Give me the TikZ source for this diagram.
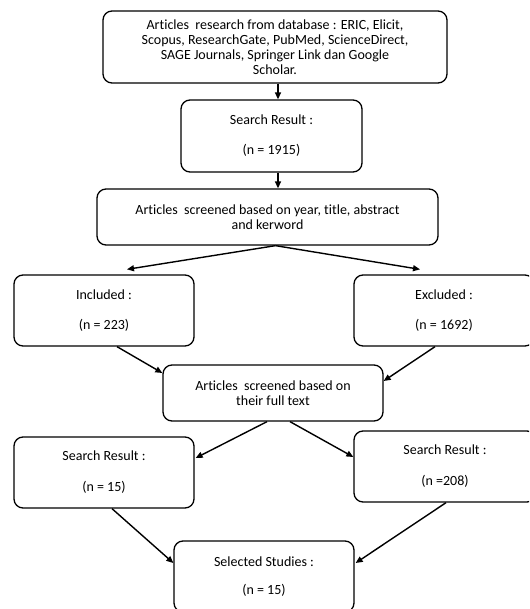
\documentclass[tikz,border=0pt]{standalone}
\usepackage{fontspec}
\setmainfont{Carlito}[Ligatures=NoCommon]
\usetikzlibrary{arrows.meta,calc}
\begin{document}
\begin{tikzpicture}[x=1pt,y=-1pt,
  box/.style={draw=black, line width=1.3pt, rounded corners=9pt, inner sep=0pt,
    align=center, font=\fontsize{14}{15}\selectfont, text=black},
  arr/.style={draw=black, line width=1.4pt, -{Triangle[length=7pt,width=6pt]}}]
\useasboundingbox (0,0) rectangle (529,609);
\clip (0,0) rectangle (529,609);
\node[box, minimum width=344pt, minimum height=72pt] (b1) at (275,47)
  {Articles\ \ research from database : ERIC, Elicit,\\Scopus, ResearchGate, PubMed, ScienceDirect,\\SAGE Journals, Springer Link dan Google\\Scholar.};
\node[box, minimum width=181pt, minimum height=72pt] (b2) at (271.5,136)
  {Search Result :\\[15pt](n = 1915)};
\node[box, minimum width=341pt, minimum height=56pt] (b3) at (267.5,217)
  {Articles\ \ screened based on year, title, abstract\\and kerword};
\node[box, minimum width=180pt, minimum height=71pt] (inc) at (104,310.5)
  {Included :\\[15pt](n = 223)};
\node[box, minimum width=180pt, minimum height=71pt] (exc) at (444,310.5)
  {Excluded :\\[15pt](n = 1692)};
\node[box, minimum width=220pt, minimum height=56pt] (ft) at (273,393)
  {Articles\ \ screened based on\\their full text};
\node[box, minimum width=180pt, minimum height=71pt] (sl) at (104,472.5)
  {Search Result :\\[16pt](n = 15)};
\node[box, minimum width=182pt, minimum height=71pt] (sr) at (445,466.5)
  {Search Result :\\[16pt](n =208)};
\node[box, minimum width=180pt, minimum height=71pt] (sel) at (264,576.5)
  {Selected Studies :\\[13pt](n = 15)};

\coordinate (a1s) at ($(b1.south)+(3,0)$);
\coordinate (a1e) at ($(b2.north)+(6.5,0)$);
\coordinate (a2s) at ($(b2.south)+(6.5,0)$);
\coordinate (a2e) at ($(b3.north)+(10.5,0)$);
\draw[arr] (a1s) -- (a1e);
\draw[arr] (a2s) -- (a2e);
\draw[arr] ($(b3.south)+(8,0)$) -- ($(inc.north)+(23,-5)$);
\draw[arr] ($(b3.south)+(8,0)$) -- ($(exc.north)+(-24,-5)$);
\draw[arr] ($(inc.south)+(13,0)$) -- ($(ft.west)+(0,-20)$);
\draw[arr] ($(exc.south)+(-9,0)$) -- ($(ft.east)+(0,-12)$);
\draw[arr] ($(ft.south)+(-6,0)$) -- ($(sl.east)+(1,-14.5)$);
\draw[arr] ($(ft.south)+(17,0)$) -- ($(sr.west)+(0,-9.5)$);
\draw[arr] ($(sl.south)+(8,0)$) -- ($(sel.west)+(0,-13.5)$);
\draw[arr] ($(sr.south)+(1,0)$) -- ($(sel.east)+(1,-13.5)$);
\end{tikzpicture}
\end{document}
